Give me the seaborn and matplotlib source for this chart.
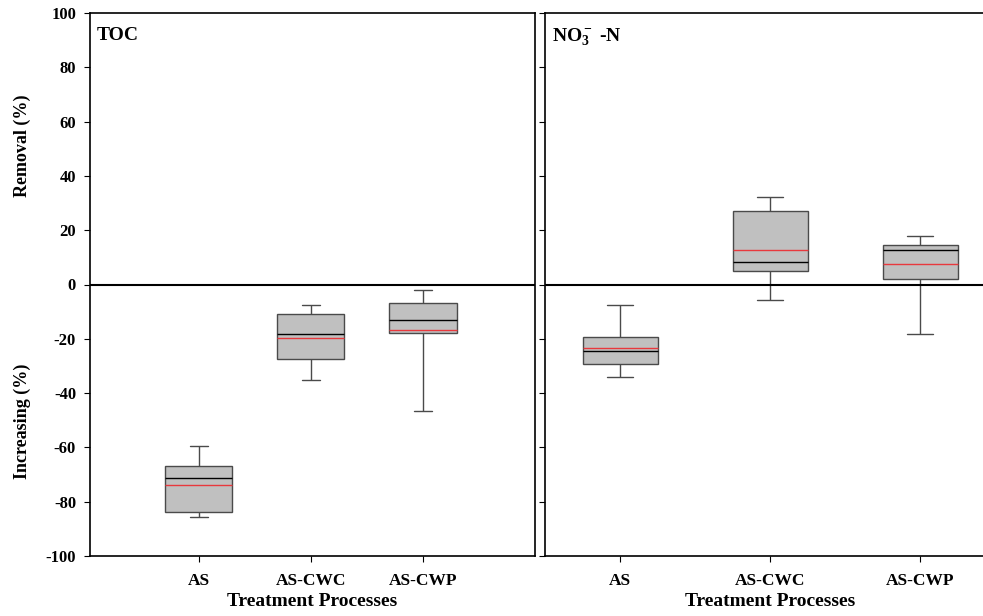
import numpy as np
import pandas as pd
import matplotlib
matplotlib.use("Agg")
import matplotlib.pyplot as plt
import seaborn as sns

processes = ["AS", "AS-CWC", "AS-CWP"]

# TOC box summaries (%)
toc_low = [-85.5, -35.2, -46.6]
toc_q1 = [-83.8, -27.4, -17.8]
toc_median = [-71.3, -18.1, -13.2]
toc_q3 = [-66.7, -11.0, -6.9]
toc_high = [-59.6, -7.5, -1.9]
toc_mean = [-73.7, -19.8, -16.9]

# NO3- -N box summaries (%)
no3_low = [-34.2, -5.8, -18.4]
no3_q1 = [-29.1, 5.1, 2.2]
no3_median = [-24.6, 8.4, 12.7]
no3_q3 = [-19.5, 27.2, 14.5]
no3_high = [-7.7, 32.1, 17.9]
no3_mean = [-23.4, 12.7, 7.7]

yticks = list(range(-100, 101, 20))


def summary_frame(low, q1, med, q3, high):
    # five values per group -> exact quartiles, whiskers to min/max
    rows = []
    for i, p in enumerate(processes):
        for v in (low[i], q1[i], med[i], q3[i], high[i]):
            rows.append({"process": p, "value": v})
    return pd.DataFrame(rows)


sns.set_style("ticks")
plt.rcParams['font.family'] = ['Liberation Serif', 'DejaVu Serif']
plt.rcParams['axes.unicode_minus'] = False
plt.rcParams['text.color'] = 'black'
plt.rcParams['axes.labelcolor'] = 'black'
plt.rcParams['mathtext.fontset'] = 'custom'
plt.rcParams['mathtext.rm'] = 'Liberation Serif:bold'
plt.rcParams['mathtext.bf'] = 'Liberation Serif:bold'
plt.rcParams['mathtext.it'] = 'Liberation Serif:bold'

fig = plt.figure(figsize=(9.83, 6.16), dpi=100)
ax1 = fig.add_axes([90 / 983, 1 - 556 / 616, 445 / 983, 543 / 616])
ax2 = fig.add_axes([545 / 983, 1 - 556 / 616, 450 / 983, 543 / 616])

panels = [
    (ax1, summary_frame(toc_low, toc_q1, toc_median, toc_q3, toc_high), toc_mean, "TOC", 0.6, 0.16, (-0.97, 3.0)),
    (ax2, summary_frame(no3_low, no3_q1, no3_median, no3_q3, no3_high), no3_mean, r"NO$_3^-$ -N", 0.5, 0.17, (-0.5, 2.5)),
]

for ax, df, means, label, width, capw, xlim in panels:
    sns.boxplot(data=df, x="process", y="value", order=processes, whis=np.inf,
                width=width, color="#c0c0c0", saturation=1, linecolor="#4a4a4a",
                linewidth=1, showfliers=False, capwidths=capw,
                medianprops={"color": "black", "linewidth": 1}, ax=ax)
    pos = np.arange(len(processes))
    ax.hlines(means, pos - width / 2, pos + width / 2, colors="#e8383d", linewidth=1, zorder=5)
    ax.axhline(0, color="black", linewidth=1.5, zorder=6)
    ax.set_xlim(*xlim)
    ax.set_ylim(-100, 100)
    ax.set_yticks(yticks)
    ax.tick_params(direction="out", length=4, width=0.8, colors="black", labelsize=12)
    ax.tick_params(axis="y", pad=6)
    ax.tick_params(axis="x", pad=8, labelsize=12.5)
    for t in ax.get_xticklabels() + ax.get_yticklabels():
        t.set_fontweight("bold")
    ax.set_xlabel("Treatment Processes", fontsize=14, fontweight="bold", labelpad=3)
    ax.set_ylabel("")
    ax.text(0.016, 0.975, label, transform=ax.transAxes, va="top", ha="left",
            fontsize=14, fontweight="bold")
    for s in ax.spines.values():
        s.set_linewidth(1.2)
        s.set_color("black")

ax2.set_yticklabels([])

fig.text(22 / 983, 1 - 146 / 616, "Removal (%)", rotation=90, ha="center", va="center",
         fontsize=13, fontweight="bold")
fig.text(22 / 983, 1 - 421 / 616, "Increasing (%)", rotation=90, ha="center", va="center",
         fontsize=13, fontweight="bold")

fig.savefig("out.png", dpi=100)
